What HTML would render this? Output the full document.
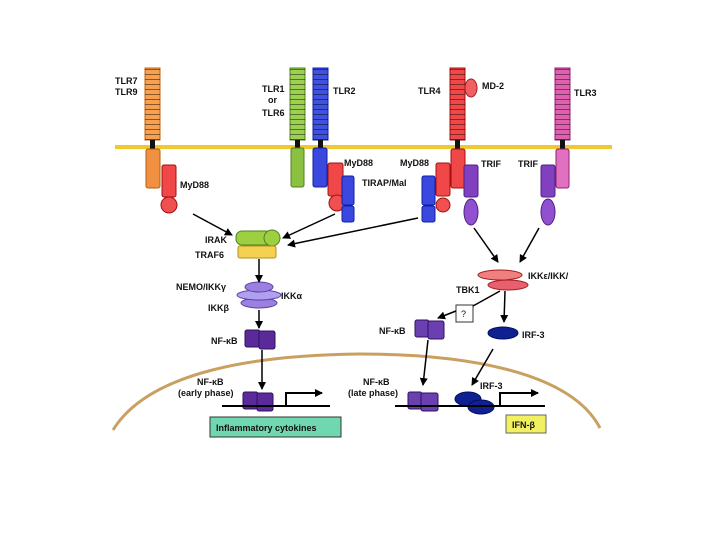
<!DOCTYPE html>
<html><head><meta charset="utf-8"><style>
html,body{margin:0;padding:0;background:#fff;}
svg{display:block;}
text{font-family:"Liberation Sans",sans-serif;font-weight:bold;font-size:9px;fill:#111;}
</style></head><body>
<svg width="720" height="540" viewBox="0 0 720 540" xmlns="http://www.w3.org/2000/svg">
<defs>
<marker id="ah" markerWidth="8" markerHeight="8" refX="7" refY="4" orient="auto" markerUnits="userSpaceOnUse"><path d="M0,0 L8,4 L0,8 z" fill="#000"/></marker>
<pattern id="stripe" width="4" height="5" patternUnits="userSpaceOnUse"><rect y="4" width="4" height="1" fill="rgba(0,0,0,0.45)"/></pattern>
</defs>
<!-- nuclear envelope -->
<path d="M113,430 C150,370 260,355 360,354 C460,354 570,370 600,428" fill="none" stroke="#c9a060" stroke-width="3"/>
<!-- membrane -->
<rect x="115" y="145" width="497" height="4" fill="#f0c830"/>
<!-- receptors -->
<g stroke-width="1">
<rect x="145" y="68" width="15" height="72" fill="#f6a050" stroke="#c06010"/><rect x="145" y="68" width="15" height="72" fill="url(#stripe)"/>
<rect x="290" y="68" width="15" height="72" fill="#9cd050" stroke="#508020"/><rect x="290" y="68" width="15" height="72" fill="url(#stripe)"/>
<rect x="313" y="68" width="15" height="72" fill="#4050e0" stroke="#1020a0"/><rect x="313" y="68" width="15" height="72" fill="url(#stripe)"/>
<rect x="450" y="68" width="15" height="72" fill="#f04848" stroke="#a01010"/><rect x="450" y="68" width="15" height="72" fill="url(#stripe)"/>
<rect x="555" y="68" width="15" height="72" fill="#e060b0" stroke="#902070"/><rect x="555" y="68" width="15" height="72" fill="url(#stripe)"/>
</g>
<g fill="#111"><rect x="150" y="140" width="5" height="10"/><rect x="295" y="140" width="5" height="10"/><rect x="318" y="140" width="5" height="10"/><rect x="455" y="140" width="5" height="10"/><rect x="560" y="140" width="5" height="10"/></g>
<ellipse cx="471" cy="88" rx="6" ry="9" fill="#f06060" stroke="#a02020"/>
<!-- intracellular -->
<rect x="146" y="149" width="14" height="39" rx="2" fill="#f09040" stroke="#b06010"/>
<rect x="162" y="165" width="14" height="32" rx="2" fill="#f04848" stroke="#a01010"/>
<circle cx="169" cy="205" r="8" fill="#f05050" stroke="#a01010"/>
<rect x="291" y="148" width="13" height="39" rx="2" fill="#8cc040" stroke="#508020"/>
<rect x="313" y="148" width="14" height="39" rx="2" fill="#3a48e0" stroke="#1020a0"/>
<rect x="328" y="163" width="15" height="33" rx="2" fill="#f04848" stroke="#a01010"/>
<circle cx="337" cy="203" r="8" fill="#f05050" stroke="#a01010"/>
<rect x="342" y="176" width="12" height="29" rx="2" fill="#3a48e0" stroke="#1020a0"/>
<rect x="342" y="206" width="12" height="16" rx="2" fill="#3a48e0" stroke="#1020a0"/>
<rect x="451" y="149" width="14" height="39" rx="2" fill="#f04848" stroke="#a01010"/>
<rect x="436" y="163" width="14" height="33" rx="2" fill="#f04848" stroke="#a01010"/>
<circle cx="443" cy="205" r="7" fill="#f05050" stroke="#a01010"/>
<rect x="422" y="176" width="13" height="29" rx="2" fill="#3a48e0" stroke="#1020a0"/>
<rect x="422" y="206" width="13" height="16" rx="2" fill="#3a48e0" stroke="#1020a0"/>
<rect x="464" y="165" width="14" height="32" rx="2" fill="#8040c0" stroke="#502080"/>
<ellipse cx="471" cy="212" rx="7" ry="13" fill="#9050d0" stroke="#502080"/>
<rect x="556" y="149" width="13" height="39" rx="2" fill="#e070c0" stroke="#902070"/>
<rect x="541" y="165" width="14" height="32" rx="2" fill="#8040c0" stroke="#502080"/>
<ellipse cx="548" cy="212" rx="7" ry="13" fill="#9050d0" stroke="#502080"/>
<!-- IRAK/TRAF6 -->
<rect x="236" y="231" width="36" height="14" rx="6" fill="#9cd040" stroke="#508020"/>
<circle cx="272" cy="238" r="8" fill="#9cd040" stroke="#508020"/>
<rect x="238" y="246" width="38" height="12" rx="2" fill="#f6d050" stroke="#b09020"/>
<!-- IKK complex -->
<ellipse cx="259" cy="303" rx="18" ry="5" fill="#9a80e0" stroke="#6040a0"/>
<ellipse cx="259" cy="295" rx="22" ry="5" fill="#b0a0f0" stroke="#6040a0"/>
<ellipse cx="259" cy="287" rx="14" ry="5" fill="#9a80e0" stroke="#6040a0"/>
<!-- NF-kB -->
<g fill="#5a2a9a" stroke="#301060">
<rect x="245" y="330" width="15" height="17" rx="2"/><rect x="259" y="331" width="16" height="18" rx="2"/>
<rect x="243" y="392" width="15" height="17" rx="2"/><rect x="257" y="393" width="16" height="18" rx="2"/>
<rect x="415" y="320" width="14" height="17" rx="2" fill="#6a40b0"/><rect x="428" y="321" width="16" height="18" rx="2" fill="#6a40b0"/>
<rect x="408" y="392" width="14" height="17" rx="2" fill="#6a40b0"/><rect x="421" y="393" width="17" height="18" rx="2" fill="#6a40b0"/>
</g>
<!-- IKKe/TBK1 -->
<ellipse cx="500" cy="275" rx="22" ry="5" fill="#f08080" stroke="#a02020"/>
<ellipse cx="508" cy="285" rx="20" ry="5" fill="#e86070" stroke="#a02020"/>
<rect x="456" y="305" width="17" height="17" fill="#fff" stroke="#333"/>
<text x="461" y="317" style="font-weight:normal">?</text>
<ellipse cx="503" cy="333" rx="15" ry="6" fill="#102090" stroke="#001060"/>
<ellipse cx="468" cy="399" rx="13" ry="7" fill="#102090" stroke="#001060"/>
<ellipse cx="481" cy="407" rx="13" ry="7" fill="#102090" stroke="#001060"/>
<!-- DNA -->
<g stroke="#000" stroke-width="2" fill="none">
<line x1="222" y1="406" x2="330" y2="406"/>
<line x1="395" y1="406" x2="545" y2="406"/>
<polyline points="286,406 286,393 322,393" marker-end="url(#ah)"/>
<polyline points="500,406 500,393 538,393" marker-end="url(#ah)"/>
</g>
<!-- arrows -->
<g stroke="#000" stroke-width="1.5" fill="none" marker-end="url(#ah)">
<line x1="193" y1="214" x2="232" y2="235"/>
<line x1="335" y1="214" x2="283" y2="238"/>
<line x1="418" y1="218" x2="288" y2="245"/>
<line x1="259" y1="259" x2="259" y2="282"/>
<line x1="259" y1="310" x2="259" y2="328"/>
<line x1="262" y1="350" x2="262" y2="389"/>
<line x1="474" y1="228" x2="498" y2="262"/>
<line x1="539" y1="228" x2="520" y2="262"/>
<line x1="505" y1="291" x2="504" y2="322"/>
<line x1="428" y1="340" x2="423" y2="385"/>
<line x1="493" y1="349" x2="472" y2="385"/>
<line x1="456" y1="311" x2="438" y2="318"/>
</g>
<line x1="500" y1="291" x2="473" y2="306" stroke="#000" stroke-width="1.5"/>
<!-- boxes -->
<rect x="210" y="417" width="131" height="20" fill="#70d8b0" stroke="#333"/>
<text x="216" y="431">Inflammatory cytokines</text>
<rect x="506" y="415" width="40" height="18" fill="#f0f060" stroke="#666"/>
<text x="512" y="428">IFN-β</text>
<!-- labels -->
<text x="115" y="84">TLR7</text><text x="115" y="95">TLR9</text>
<text x="262" y="92">TLR1</text><text x="268" y="103">or</text><text x="262" y="116">TLR6</text>
<text x="333" y="94">TLR2</text>
<text x="418" y="94">TLR4</text><text x="482" y="89">MD-2</text>
<text x="574" y="96">TLR3</text>
<text x="180" y="188">MyD88</text>
<text x="344" y="166">MyD88</text><text x="362" y="186">TIRAP/Mal</text>
<text x="400" y="166">MyD88</text><text x="481" y="167">TRIF</text><text x="518" y="167">TRIF</text>
<text x="205" y="243">IRAK</text><text x="195" y="258">TRAF6</text>
<text x="176" y="290">NEMO/IKKγ</text><text x="281" y="299">IKKα</text><text x="208" y="311">IKKβ</text>
<text x="211" y="344">NF-κB</text>
<text x="197" y="385">NF-κB</text><text x="178" y="396">(early phase)</text>
<text x="528" y="279">IKKε/IKK/</text><text x="456" y="293">TBK1</text>
<text x="379" y="334">NF-κB</text><text x="522" y="338">IRF-3</text>
<text x="363" y="385">NF-κB</text><text x="348" y="396">(late phase)</text>
<text x="480" y="389">IRF-3</text>
</svg>
</body></html>
